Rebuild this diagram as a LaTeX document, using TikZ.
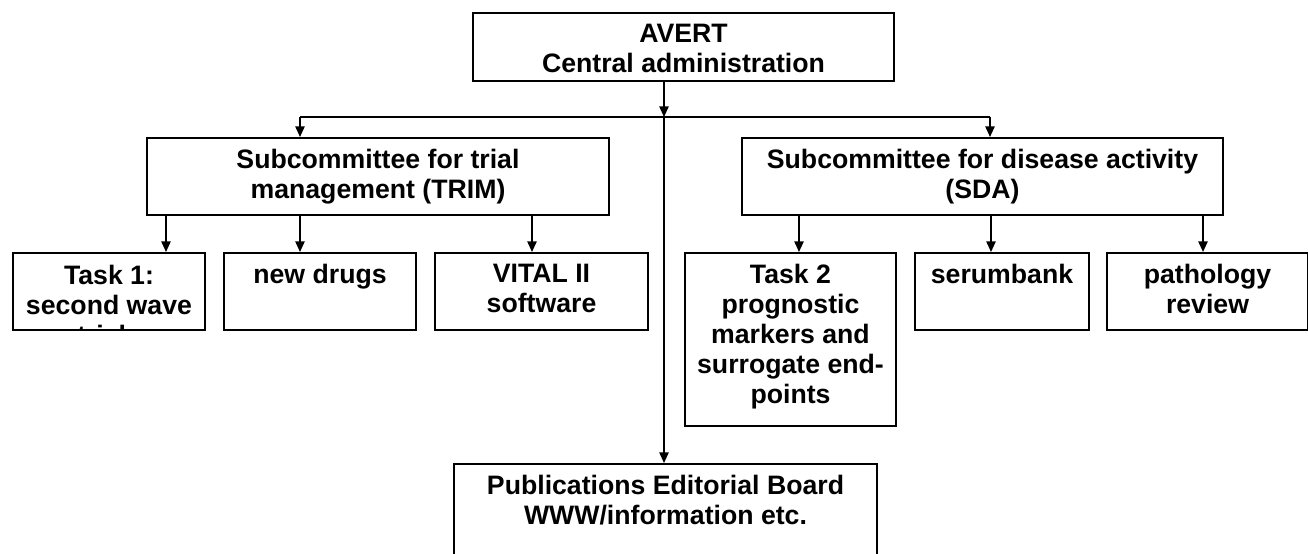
\documentclass[tikz,border=0pt]{standalone}
\usepackage{fontspec}
\setmainfont{Liberation Sans}
\usetikzlibrary{arrows.meta}
\newcommand{\boxtext}[3]{\parbox[c][#2][t]{#1}{\centering\vspace*{8.5pt}#3}}

\begin{document}
\begin{tikzpicture}[x=0.75pt,y=-0.75pt,
    arr/.style={line width=1.2pt,-{Triangle[length=8pt,width=7pt]}}]
        \clip (0,0) rectangle (1308,553);
        \begin{scope}[every node/.style={draw,line width=1.5pt,inner sep=0pt,anchor=north west,
            font=\fontsize{20}{22.5}\selectfont\bfseries}]
          \node (avert) at (472,12) {\boxtext{315.75pt}{51pt}{AVERT\\Central administration}};
          \node (trim) at (146,137) {\boxtext{346.5pt}{57.75pt}{Subcommittee for trial\\management (TRIM)}};
          \node (sda) at (741,137) {\boxtext{360.75pt}{57.75pt}{Subcommittee for disease activity\\(SDA)}};
          % third line runs out of the box, as in the original
          \node[minimum width=144pt,minimum height=57.75pt,
            path picture={\node[draw=none,anchor=north] at (path picture bounding box.north)
              {\boxtext{144pt}{80pt}{Task 1:\\second wave\\trials}};}] (taska) at (12,252) {};
          \node (drugs) at (223,252) {\boxtext{144pt}{57.75pt}{new drugs}};
          \node (vital) at (434,252) {\boxtext{159.75pt}{57.75pt}{VITAL II\\software}};
          \node (taskb) at (684,252) {\boxtext{158.25pt}{129.75pt}{Task 2\\prognostic\\markers and\\surrogate end-\\points}};
          \node (serum) at (914,252) {\boxtext{130.5pt}{57.75pt}{serumbank}};
          \node (patho) at (1106,252) {\boxtext{150.75pt}{57.75pt}{pathology\\review}};
          \node (pub) at (453,463) {\boxtext{317.25pt}{75pt}{Publications Editorial Board\\WWW/information etc.}};
        \end{scope}
        \coordinate (hub) at (664,117);
        \coordinate (lft) at (300,117);
        \coordinate (rgt) at (990,117);
        \draw[arr] (hub |- avert.south) -- (hub);
        \draw[line width=1.2pt] (lft) -- (rgt);
        \draw[arr] (lft) -- (lft |- trim.north);
        \draw[arr] (rgt) -- (rgt |- sda.north);
        \draw[arr] (hub) -- (hub |- pub.north);
        \foreach \n/\x in {taska/166,drugs/300,vital/532}
          \draw[arr] (\x,0 |- trim.south) -- (\x,0 |- \n.north);
        \foreach \n/\x in {taskb/799,serum/991,patho/1203}
          \draw[arr] (\x,0 |- sda.south) -- (\x,0 |- \n.north);
      \end{tikzpicture}
\end{document}
